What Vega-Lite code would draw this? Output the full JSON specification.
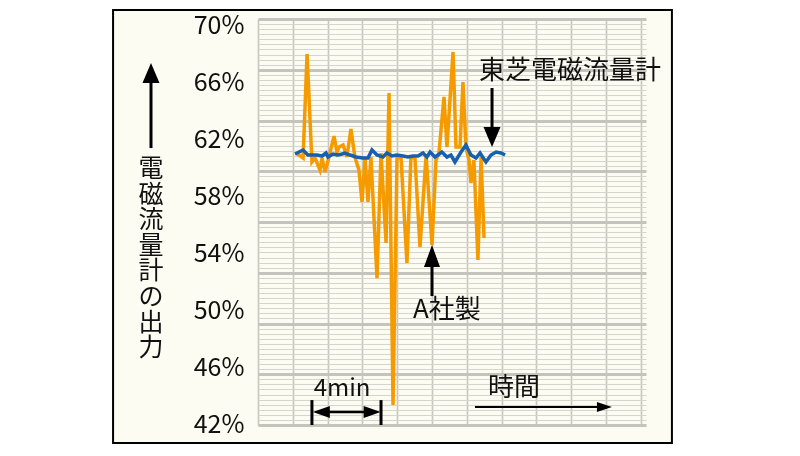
{
  "$schema": "https://vega.github.io/schema/vega-lite/v6.json",
  "width": 388,
  "height": 406,
  "autosize": {"type": "none"},
  "padding": {"left": 258, "top": 19, "right": 154, "bottom": 31},
  "background": "white",
  "data": {"values": [{"note": "annotation"}]},
  "datasets": {
    "a_sha": [
      {"t": 2.18, "v": 61.04}, {"t": 2.59, "v": 60.69}, {"t": 2.82, "v": 68.0}, {"t": 3.1, "v": 60.41},
      {"t": 3.28, "v": 60.69}, {"t": 3.56, "v": 59.85}, {"t": 3.68, "v": 60.69}, {"t": 3.85, "v": 59.71},
      {"t": 4.08, "v": 60.76}, {"t": 4.37, "v": 62.23}, {"t": 4.54, "v": 61.11}, {"t": 4.66, "v": 61.46},
      {"t": 4.89, "v": 61.6}, {"t": 5.11, "v": 60.76}, {"t": 5.34, "v": 62.73}, {"t": 5.57, "v": 60.76},
      {"t": 5.8, "v": 59.85}, {"t": 5.98, "v": 57.6}, {"t": 6.15, "v": 60.69}, {"t": 6.32, "v": 57.6},
      {"t": 6.49, "v": 60.76}, {"t": 6.84, "v": 52.25}, {"t": 7.07, "v": 61.04}, {"t": 7.36, "v": 54.72},
      {"t": 7.53, "v": 65.26}, {"t": 7.76, "v": 43.33}, {"t": 7.99, "v": 60.76}, {"t": 8.22, "v": 60.69},
      {"t": 8.56, "v": 53.31}, {"t": 8.79, "v": 60.76}, {"t": 9.02, "v": 60.69}, {"t": 9.31, "v": 54.43},
      {"t": 9.66, "v": 60.9}, {"t": 10.0, "v": 54.58}, {"t": 10.23, "v": 60.55}, {"t": 10.4, "v": 61.04},
      {"t": 10.69, "v": 64.98}, {"t": 10.86, "v": 61.46}, {"t": 11.21, "v": 68.14}, {"t": 11.38, "v": 61.46},
      {"t": 11.61, "v": 61.46}, {"t": 11.78, "v": 66.03}, {"t": 11.95, "v": 61.46}, {"t": 12.13, "v": 60.55},
      {"t": 12.24, "v": 58.93}, {"t": 12.41, "v": 60.55}, {"t": 12.64, "v": 53.52}, {"t": 12.82, "v": 60.76},
      {"t": 12.99, "v": 55.07}
    ],
    "toshiba": [
      {"t": 2.13, "v": 60.97}, {"t": 2.36, "v": 61.11}, {"t": 2.59, "v": 61.25}, {"t": 2.87, "v": 60.9},
      {"t": 3.16, "v": 60.9}, {"t": 3.39, "v": 60.9}, {"t": 3.68, "v": 60.83}, {"t": 3.91, "v": 61.04},
      {"t": 4.02, "v": 60.76}, {"t": 4.31, "v": 60.97}, {"t": 4.6, "v": 60.9}, {"t": 4.83, "v": 60.97},
      {"t": 5.0, "v": 61.04}, {"t": 5.29, "v": 60.9}, {"t": 5.63, "v": 60.76}, {"t": 6.03, "v": 60.69},
      {"t": 6.32, "v": 60.69}, {"t": 6.55, "v": 61.25}, {"t": 6.84, "v": 60.9}, {"t": 7.18, "v": 60.76},
      {"t": 7.41, "v": 61.04}, {"t": 7.7, "v": 60.83}, {"t": 7.99, "v": 60.9}, {"t": 8.33, "v": 60.83},
      {"t": 8.62, "v": 60.76}, {"t": 8.91, "v": 60.83}, {"t": 9.2, "v": 60.83}, {"t": 9.48, "v": 61.04},
      {"t": 9.71, "v": 60.76}, {"t": 9.89, "v": 61.11}, {"t": 10.17, "v": 60.76}, {"t": 10.34, "v": 60.9},
      {"t": 10.57, "v": 61.11}, {"t": 10.86, "v": 60.76}, {"t": 11.09, "v": 60.9}, {"t": 11.32, "v": 60.41},
      {"t": 11.67, "v": 61.11}, {"t": 11.95, "v": 61.6}, {"t": 12.24, "v": 60.9}, {"t": 12.53, "v": 60.69},
      {"t": 12.76, "v": 61.04}, {"t": 13.1, "v": 60.41}, {"t": 13.39, "v": 60.9}, {"t": 13.68, "v": 61.11},
      {"t": 13.97, "v": 61.04}, {"t": 14.2, "v": 60.9}
    ]
  },
  "layer": [
    {
      "mark": {"type": "rule", "opacity": 0},
      "encoding": {
        "x": {
          "datum": 0,
          "type": "quantitative",
          "scale": {"domain": [0, 22.3], "nice": false, "zero": false},
          "axis": {
            "values": [0, 1, 2, 3, 4, 5, 6, 7, 8, 9, 10, 11, 12, 13, 14, 15, 16, 17, 18, 19, 20, 21, 22],
            "tickCount": 22,
            "grid": true,
            "labels": false,
            "ticks": false,
            "domain": false,
            "title": null,
            "gridColor": "#c8c8c8",
            "gridWidth": {"condition": {"test": "datum.value % 4 == 3", "value": 3}, "value": 1.6}
          }
        },
        "y": {
          "datum": 0,
          "type": "quantitative",
          "scale": {"domain": [0, 80], "nice": false, "zero": false},
          "axis": {
            "orient": "right",
            "tickCount": 80,
            "grid": true,
            "labels": false,
            "ticks": false,
            "domain": false,
            "title": null,
            "gridColor": {"condition": {"test": "datum.value % 10 == 0", "value": "#c6c6c6"}, "value": "#d8d8d8"},
            "gridWidth": {"condition": {"test": "datum.value % 10 == 0", "value": 3}, "value": 1}
          }
        }
      }
    },
    {
      "layer": [
        {
          "mark": {"type": "rect", "fill": "#fdfcf2", "blend": "multiply", "stroke": "black", "strokeWidth": 2},
          "encoding": {
            "x": {"datum": -8.33, "type": "quantitative"},
            "x2": {"datum": 23.79},
            "y": {
              "datum": 71.09,
              "type": "quantitative",
              "scale": {"domain": [41.93, 70.457], "nice": false, "zero": false},
              "axis": {
                "orient": "left",
                "values": [42, 46, 50, 54, 58, 62, 66, 70],
                "labelExpr": "datum.value + '%'",
                "grid": false,
                "ticks": false,
                "domain": false,
                "title": null,
                "labelPadding": 14,
                "labelFont": "Noto Sans CJK JP",
                "labelFontSize": 25,
                "labelColor": "#111111"
              }
            },
            "y2": {"datum": 40.66}
          }
        },
        {
          "data": {"name": "a_sha"},
          "mark": {"type": "line", "color": "#f59b00", "strokeWidth": 3.5, "strokeJoin": "miter"},
          "encoding": {
            "x": {"field": "t", "type": "quantitative"},
            "y": {"field": "v", "type": "quantitative"}
          }
        },
        {
          "data": {"name": "toshiba"},
          "mark": {"type": "line", "color": "#1660ad", "strokeWidth": 3.5},
          "encoding": {
            "x": {"field": "t", "type": "quantitative"},
            "y": {"field": "v", "type": "quantitative"}
          }
        },
        {
          "mark": {"type": "text", "font": "Noto Sans CJK JP", "fontSize": 26, "color": "#111111"},
          "encoding": {"x": {"datum": 17.93}, "y": {"datum": 66.77}, "text": {"value": "東芝電磁流量計"}}
        },
        {
          "mark": {"type": "rule", "color": "black", "strokeWidth": 3},
          "encoding": {"x": {"datum": 13.45}, "y": {"datum": 65.61}, "y2": {"datum": 62.66}}
        },
        {
          "mark": {"type": "point", "shape": "M-0.85,-1L0.85,-1L0,1Z", "filled": true, "color": "black", "opacity": 1, "size": 400},
          "encoding": {"x": {"datum": 13.45}, "y": {"datum": 62.16}}
        },
        {
          "mark": {"type": "text", "font": "Noto Sans CJK JP", "fontSize": 26, "color": "#111111"},
          "encoding": {"x": {"datum": 10.86}, "y": {"datum": 50.01}, "text": {"value": "A社製"}}
        },
        {
          "mark": {"type": "rule", "color": "black", "strokeWidth": 3},
          "encoding": {"x": {"datum": 10.0}, "y": {"datum": 53.17}, "y2": {"datum": 50.99}}
        },
        {
          "mark": {"type": "point", "shape": "M0,-1L0.73,1L-0.73,1Z", "filled": true, "color": "black", "opacity": 1, "size": 484},
          "encoding": {"x": {"datum": 10.0}, "y": {"datum": 53.8}}
        },
        {
          "mark": {"type": "text", "font": "Noto Sans CJK JP", "fontSize": 24, "color": "#111111"},
          "encoding": {"x": {"datum": 4.83}, "y": {"datum": 44.46}, "text": {"value": "4min"}}
        },
        {
          "mark": {"type": "rule", "color": "black", "strokeWidth": 2.5},
          "encoding": {"x": {"datum": 3.5}, "x2": {"datum": 6.7}, "y": {"datum": 42.84}}
        },
        {
          "mark": {"type": "rule", "color": "black", "strokeWidth": 3},
          "encoding": {"x": {"datum": 3.1}, "y": {"datum": 43.68}, "y2": {"datum": 41.93}}
        },
        {
          "mark": {"type": "rule", "color": "black", "strokeWidth": 3},
          "encoding": {"x": {"datum": 7.07}, "y": {"datum": 43.68}, "y2": {"datum": 41.93}}
        },
        {
          "mark": {"type": "point", "shape": "M-1,0L1,-0.7L1,0.7Z", "filled": true, "color": "black", "opacity": 1, "size": 289},
          "encoding": {"x": {"datum": 3.64}, "y": {"datum": 42.84}}
        },
        {
          "mark": {"type": "point", "shape": "M1,0L-1,-0.7L-1,0.7Z", "filled": true, "color": "black", "opacity": 1, "size": 289},
          "encoding": {"x": {"datum": 6.56}, "y": {"datum": 42.84}}
        },
        {
          "mark": {"type": "text", "font": "Noto Sans CJK JP", "fontSize": 26, "color": "#111111"},
          "encoding": {"x": {"datum": 14.71}, "y": {"datum": 44.53}, "text": {"value": "時間"}}
        },
        {
          "mark": {"type": "rule", "color": "black", "strokeWidth": 2},
          "encoding": {"x": {"datum": 12.47}, "x2": {"datum": 19.66}, "y": {"datum": 43.19}}
        },
        {
          "mark": {"type": "point", "shape": "M1,0L-1,-0.67L-1,0.67Z", "filled": true, "color": "black", "opacity": 1, "size": 225},
          "encoding": {"x": {"datum": 19.91}, "y": {"datum": 43.19}}
        },
        {
          "mark": {"type": "rule", "color": "black", "strokeWidth": 3},
          "encoding": {"x": {"datum": -6.15}, "y": {"datum": 66.17}, "y2": {"datum": 61.39}}
        },
        {
          "mark": {"type": "point", "shape": "M0,-1L0.85,1L-0.85,1Z", "filled": true, "color": "black", "opacity": 1, "size": 400},
          "encoding": {"x": {"datum": -6.15}, "y": {"datum": 66.66}}
        },
        {
          "mark": {"type": "text", "font": "Noto Sans CJK JP", "fontSize": 25, "lineHeight": 25.6, "baseline": "top", "color": "#111111"},
          "encoding": {"x": {"datum": -6.15}, "y": {"datum": 60.76}, "text": {"value": ["電", "磁", "流", "量", "計", "の", "出", "力"]}}
        }
      ]
    }
  ],
  "resolve": {"scale": {"y": "independent"}, "axis": {"y": "independent"}},
  "config": {
    "view": {"stroke": null}
  }
}
